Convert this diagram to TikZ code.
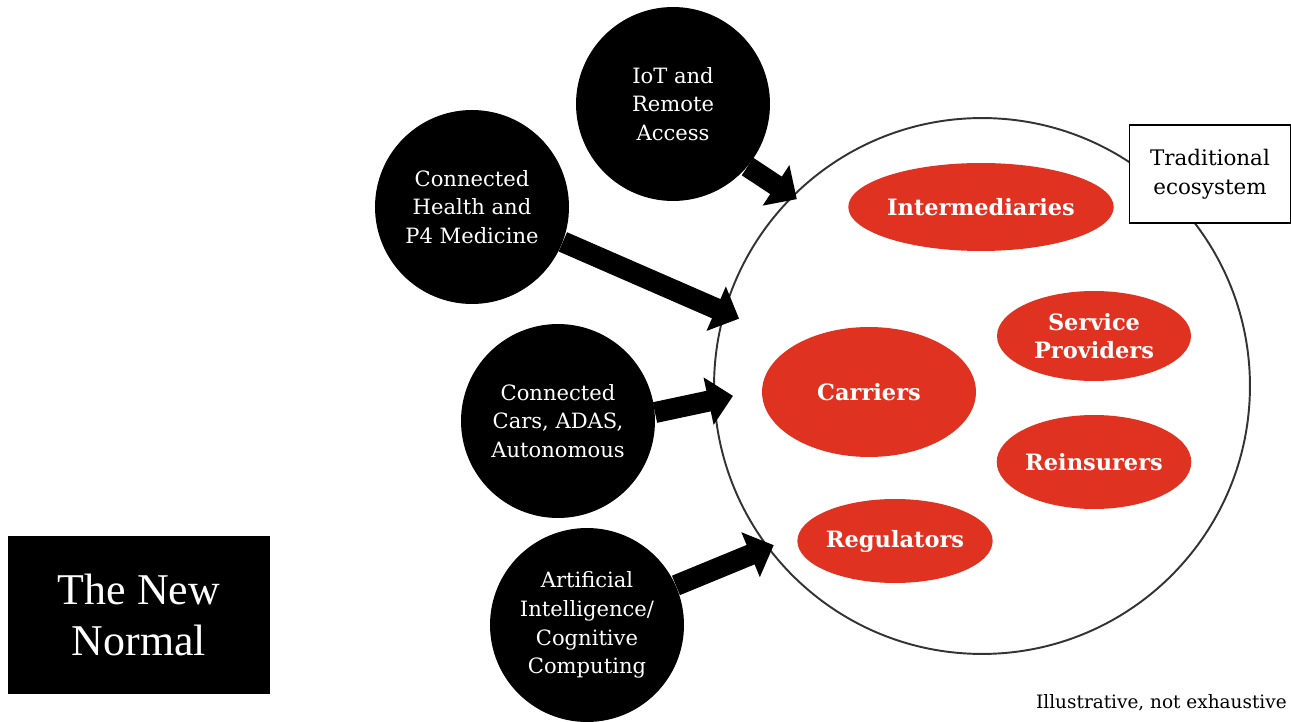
\documentclass[tikz,border=0pt]{standalone}
\usepackage{fontspec}
\setmainfont{DejaVu Serif}
\newfontfamily\titlefont{Liberation Serif}
\usepackage{xcolor}
\usetikzlibrary{arrows.meta, shapes.geometric}
\definecolor{ecored}{RGB}{224,50,32}

\begin{document}
\begin{tikzpicture}[x=0.02cm, y=-0.02cm, every node/.style={align=center, inner sep=0pt},
  trend/.style={circle, fill=black, text=white, minimum size=3.88cm, font=\fontsize{12}{16.4}\selectfont},
  player/.style={ellipse, fill=ecored, text=white, font=\fontsize{12.8}{15.8}\selectfont\bfseries},
  push/.style={line width=0.42cm, -{Triangle[length=0.5cm, width=0.94cm]}}]
  \useasboundingbox (0,0) rectangle (1291,722);

  % traditional ecosystem
  \node[circle, draw=black!80, line width=1.1pt, minimum size=10.72cm] (eco) at (982,386) {};
  \node[player, minimum width=5.28cm, minimum height=1.76cm] (inter) at (981,207) {Intermediaries};
  \node[player, minimum width=3.88cm, minimum height=1.8cm] (service) at (1094,336) {Service\\Providers};
  \node[player, minimum width=4.28cm, minimum height=2.6cm] (carriers) at (869,392) {Carriers};
  \node[player, minimum width=3.88cm, minimum height=1.88cm] (reins) at (1094,462) {Reinsurers};
  \node[player, minimum width=3.84cm, minimum height=1.68cm] (regul) at (895,541) {Regulators};
  \node[draw, line width=1.1pt, fill=white, minimum width=3.22cm, minimum height=1.96cm,
        font=\fontsize{12.2}{16.4}\selectfont] (trad) at (1210,174) {Traditional\\ecosystem};

  % new trends
  \node[trend] (iot) at (673,104) {IoT and\\Remote\\Access};
  \node[trend] (health) at (472,207) {Connected\\Health and\\P4 Medicine};
  \node[trend] (cars) at (558,421) {Connected\\Cars, ADAS,\\Autonomous};
  \node[trend] (ai) at (587,625) {Artificial\\Intelligence/\\Cognitive\\Computing};

  \node[fill=black, text=white, minimum width=5.24cm, minimum height=3.16cm,
        font=\titlefont\fontsize{25}{28.5}\selectfont] (normal) at (139,615) {The New\\Normal};
  \node[anchor=base east, font=\fontsize{10.5}{12}\selectfont] (note) at (1287,708) {Illustrative, not exhaustive};

  % pressure on the ecosystem
  \draw[push, shorten >=-0.12cm] (iot.-40) -- (eco.135);
  \draw[push, shorten >=-0.34cm] (health.-21) -- (eco.164);
  \draw[push, shorten >=-0.4cm] (cars.5) -- (eco.183);
  \draw[push, shorten >=-0.14cm] (ai.24) -- (eco.217);
\end{tikzpicture}
\end{document}
